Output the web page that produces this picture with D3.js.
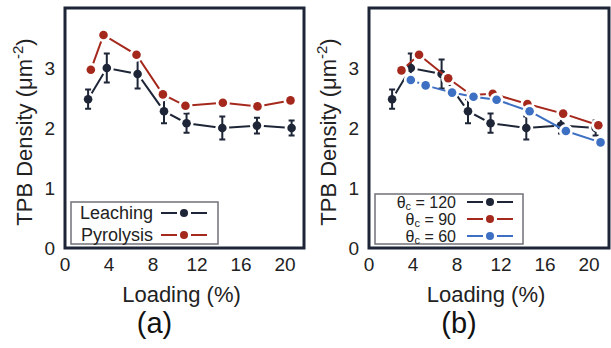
<!DOCTYPE html>
<html>
<head>
<meta charset="utf-8">
<script src="https://cdn.jsdelivr.net/npm/d3@7/dist/d3.min.js"></script>
<style>
  body { margin: 0; background: #fff; }
  svg { display: block; font-family: "Liberation Sans", Arial, sans-serif; }
</style>
</head>
<body>
<div id="chart"></div>
<script>
// data
const leachX = [2.1, 3.8, 6.6, 9.0, 11.05, 14.3, 17.45, 20.6];
const leachY = [2.48, 3.0, 2.9, 2.28, 2.08, 2.0, 2.04, 2.0];
const leachErr = [0.16, 0.24, 0.24, 0.2, 0.16, 0.19, 0.13, 0.125];

const pyroX = [2.35, 3.5, 6.5, 8.9, 10.95, 14.35, 17.5, 20.5];
const pyroY = [2.97, 3.55, 3.22, 2.56, 2.37, 2.42, 2.36, 2.46];

const th90X = [2.95, 4.55, 7.2, 9.3, 11.25, 14.4, 17.65, 20.85];
const th90Y = [2.96, 3.22, 2.83, 2.55, 2.57, 2.4, 2.24, 2.045];

const th60X = [3.8, 5.15, 7.55, 9.5, 11.6, 14.6, 17.9, 21.05];
const th60Y = [2.8, 2.71, 2.59, 2.52, 2.47, 2.28, 1.95, 1.76];

const xTicks = [0, 4, 8, 12, 16, 20];
const yTicks = [0, 1, 2, 3];

const navy = "#1d2537", red = "#a5281d", blue = "#3d6fc2";

const W = 611, H = 348;
const svg = d3.select("#chart").append("svg")
  .attr("width", W).attr("height", H);

function zip(xs, ys, es) {
  return xs.map((x, i) => ({x: x, y: ys[i], e: es ? es[i] : 0}));
}

function panel(left, right, letter, series, legendItems, legendBox) {
  const top = 8, bottom = 248;
  const x = d3.scaleLinear().domain([0, (right - left) / 11]).range([left, right]);
  const y = d3.scaleLinear().domain([0, (bottom - top) / 60]).range([bottom, top]);
  const g = svg.append("g");

  // tick labels
  g.selectAll(".xt").data(xTicks).enter().append("text")
    .attr("x", d => x(d)).attr("y", 271)
    .attr("text-anchor", "middle").attr("font-size", 19).attr("fill", "#222")
    .text(d => d);
  g.selectAll(".yt").data(yTicks).enter().append("text")
    .attr("x", left - 10).attr("y", d => y(d) + 7)
    .attr("text-anchor", "end").attr("font-size", 19).attr("fill", "#222")
    .text(d => d);

  const line = d3.line().x(d => x(d.x)).y(d => y(d.y));

  series.forEach(s => {
    const pts = zip(s.x, s.y, s.err);
    g.append("path").datum(pts)
      .attr("d", line).attr("fill", "none")
      .attr("stroke", s.color).attr("stroke-width", 2);
    // white gaps around the markers
    g.selectAll(null).data(pts).enter().append("circle")
      .attr("cx", d => x(d.x)).attr("cy", d => y(d.y)).attr("r", 7)
      .attr("fill", "#fff");
    if (s.err) {
      pts.forEach(d => {
        const cx = x(d.x);
        g.append("path")
          .attr("d", `M${cx},${y(d.y - d.e)}V${y(d.y + d.e)}M${cx - 3},${y(d.y - d.e)}H${cx + 3}M${cx - 3},${y(d.y + d.e)}H${cx + 3}`)
          .attr("stroke", s.color).attr("stroke-width", 2).attr("fill", "none");
      });
    }
    g.selectAll(null).data(pts).enter().append("circle")
      .attr("cx", d => x(d.x)).attr("cy", d => y(d.y)).attr("r", 4.3)
      .attr("fill", s.color);
  });

  // legend
  const lb = legendBox;
  g.append("rect").attr("x", lb.x).attr("y", lb.y).attr("width", lb.w).attr("height", lb.h)
    .attr("fill", "#fff").attr("stroke", "#707078").attr("stroke-width", 1.5);
  legendItems.forEach((it, i) => {
    const ry = lb.row0 + i * lb.step;
    const t = g.append("text").attr("x", lb.textX).attr("y", ry + 6)
      .attr("text-anchor", "end").attr("font-size", lb.fs).attr("fill", "#222");
    if (it.sub) {
      t.append("tspan").text("θ");
      t.append("tspan").attr("font-size", 11).attr("dy", 2).text("c");
      t.append("tspan").attr("dy", -2).text(" = " + it.label);
    } else {
      t.text(it.label);
    }
    const mx = (lb.l0 + lb.l1) / 2;
    g.append("path").attr("d", `M${lb.l0},${ry}H${mx - 7}M${mx + 7},${ry}H${lb.l1}`)
      .attr("stroke", it.color).attr("stroke-width", 2);
    g.append("circle").attr("cx", mx).attr("cy", ry).attr("r", 4).attr("fill", it.color);
  });

  // frame
  g.append("rect").attr("x", left).attr("y", top)
    .attr("width", right - left).attr("height", bottom - top)
    .attr("fill", "none").attr("stroke", navy).attr("stroke-width", 3);

  // axis titles
  const cx = (left + right) / 2;
  g.append("text").attr("x", cx - 3).attr("y", 302)
    .attr("text-anchor", "middle").attr("font-size", 22).attr("fill", "#222")
    .text("Loading (%)");
  g.append("text").attr("x", cx - 30).attr("y", 333)
    .attr("text-anchor", "middle").attr("font-size", 29).attr("fill", "#111")
    .text(letter);
  const yl = g.append("text")
    .attr("transform", `translate(${left - 33},${(top + bottom) / 2 + 4}) rotate(-90)`)
    .attr("text-anchor", "middle").attr("font-size", 22).attr("fill", "#222");
  yl.append("tspan").text("TPB Density (μm");
  yl.append("tspan").attr("font-size", 15).attr("dy", -9).text("-2");
  yl.append("tspan").attr("dy", 9).text(")");
}

panel(65, 304, "(a)",
  [
    {x: leachX, y: leachY, err: leachErr, color: navy},
    {x: pyroX, y: pyroY, color: red}
  ],
  [
    {label: "Leaching", color: navy},
    {label: "Pyrolysis", color: red}
  ],
  {x: 71, y: 202, w: 147, h: 42, row0: 213, step: 22, textX: 153, l0: 161, l1: 207, fs: 18});

panel(369, 609, "(b)",
  [
    {x: leachX, y: leachY, err: leachErr, color: navy},
    {x: th90X, y: th90Y, color: red},
    {x: th60X, y: th60Y, color: blue}
  ],
  [
    {label: "120", color: navy, sub: true},
    {label: "90", color: red, sub: true},
    {label: "60", color: blue, sub: true}
  ],
  {x: 375, y: 194, w: 148, h: 50, row0: 202, step: 17, textX: 456, l0: 467, l1: 513, fs: 16});
</script>
</body>
</html>
